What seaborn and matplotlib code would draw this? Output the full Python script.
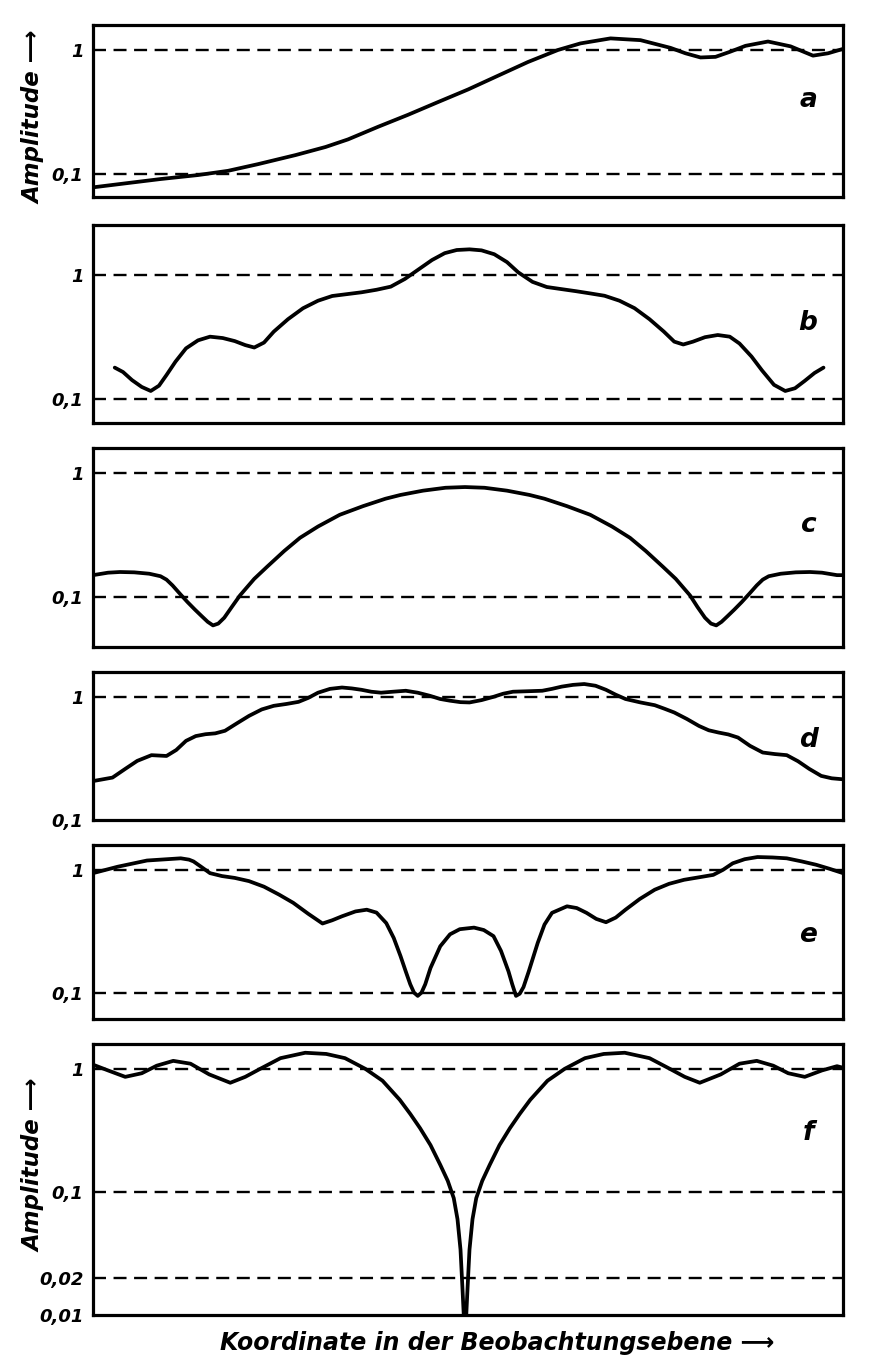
import matplotlib.pyplot as plt
import seaborn as sns
import numpy as np
import pandas as pd
from matplotlib.ticker import FixedLocator, FixedFormatter, NullLocator

x_a = [0, 5, 9, 14, 18, 22, 27, 31, 34, 38, 42, 46, 50, 54, 58, 62, 65, 69, 73, 77,
       79, 81, 83, 85, 87, 90, 93, 96, 98, 100]
amp_a = [0.078, 0.085, 0.091, 0.098, 0.106, 0.120, 0.142, 0.165, 0.19, 0.24, 0.30, 0.38,
         0.48, 0.62, 0.80, 1.00, 1.13, 1.24, 1.20, 1.04, 0.94, 0.87, 0.88, 0.97, 1.08,
         1.17, 1.07, 0.90, 0.94, 1.02]

x_b = [2.9, 4.0, 5.2, 6.5, 7.7, 8.8, 9.8, 11.0, 12.4, 14.0, 15.6, 17.3, 18.9, 20.3, 21.5,
       22.8, 24.1, 26.0, 28.0, 30.0, 31.9, 33.8, 35.8, 37.8, 39.7, 41.6, 43.6, 45.2, 46.9,
       48.5, 50.2, 51.8, 53.5, 55.2, 56.7, 58.6, 60.5, 62.4, 64.4, 66.3, 68.2, 70.2, 72.2,
       74.2, 76.1, 77.5, 78.7, 80.0, 81.6, 83.3, 84.9, 86.2, 87.8, 89.2, 90.8, 92.3, 93.6,
       94.9, 96.2, 97.4]
amp_b = [0.179, 0.165, 0.142, 0.125, 0.116, 0.128, 0.156, 0.20, 0.256, 0.297, 0.318, 0.31,
         0.293, 0.272, 0.26, 0.285, 0.349, 0.44, 0.539, 0.62, 0.677, 0.70, 0.725, 0.76,
         0.805, 0.93, 1.13, 1.32, 1.50, 1.59, 1.61, 1.58, 1.47, 1.27, 1.05, 0.88, 0.80,
         0.77, 0.74, 0.71, 0.68, 0.62, 0.54, 0.44, 0.35, 0.29, 0.275, 0.29, 0.315, 0.328,
         0.318, 0.28, 0.22, 0.17, 0.13, 0.116, 0.122, 0.14, 0.162, 0.179]

x_c = [0, 2, 3.6, 5.5, 7.5, 9, 9.8, 10.6, 11.6, 12.6, 13.6, 14.5, 15.3, 16.0, 16.7, 17.5,
       18.5, 19.6, 21.5, 23.2, 25.5, 27.6, 30, 32.9, 36, 39, 41, 44, 47, 49.6, 52.2, 55.2,
       58.2, 60.2, 63.2, 66.3, 69.2, 71.6, 73.7, 76, 77.7, 79.6, 80.6, 81.6, 82.4, 83.1,
       83.8, 84.6, 85.5, 86.5, 87.5, 88.5, 89.3, 90.1, 91.7, 93.7, 95.6, 97.2, 99.2, 100]
amp_c = [0.150, 0.157, 0.159, 0.158, 0.154, 0.147, 0.138, 0.124, 0.106, 0.091, 0.079,
         0.070, 0.063, 0.059, 0.061, 0.068, 0.083, 0.103, 0.14, 0.175, 0.235, 0.30, 0.37,
         0.46, 0.54, 0.62, 0.665, 0.72, 0.76, 0.77, 0.76, 0.72, 0.665, 0.62, 0.54, 0.46,
         0.37, 0.30, 0.235, 0.175, 0.14, 0.103, 0.083, 0.068, 0.061, 0.059, 0.063, 0.070,
         0.079, 0.091, 0.106, 0.124, 0.138, 0.147, 0.154, 0.158, 0.159, 0.157, 0.150, 0.150]

x_d = [0, 2.6, 4.3, 5.9, 7.8, 9.8, 11.1, 12.4, 13.7, 15.0, 16.3, 17.6, 19.2, 20.8, 22.5,
       24.1, 25.8, 27.4, 28.7, 30.0, 31.6, 33.2, 34.5, 35.8, 37.1, 38.4, 40.0, 41.7, 43.3,
       44.9, 46.3, 47.6, 49.0, 50.2, 51.8, 53.4, 54.7, 56.0, 58.0, 59.9, 61.2, 62.5, 64.0,
       65.5, 67.0, 68.4, 69.7, 71.0, 73.0, 74.9, 76.2, 77.5, 79.2, 80.8, 82.1, 83.4, 84.7,
       86.0, 87.6, 89.3, 90.9, 92.5, 94.0, 95.5, 97.1, 98.5, 100]
amp_d = [0.207, 0.221, 0.26, 0.302, 0.336, 0.331, 0.37, 0.439, 0.48, 0.497, 0.505, 0.53,
         0.61, 0.70, 0.79, 0.845, 0.875, 0.91, 0.98, 1.08, 1.16, 1.19, 1.17, 1.14, 1.10,
         1.08, 1.10, 1.12, 1.08, 1.02, 0.96, 0.93, 0.905, 0.90, 0.94, 1.00, 1.06, 1.10,
         1.11, 1.12, 1.16, 1.21, 1.25, 1.27, 1.23, 1.14, 1.04, 0.96, 0.90, 0.855, 0.80,
         0.746, 0.66, 0.58, 0.535, 0.513, 0.495, 0.467, 0.40, 0.353, 0.343, 0.336, 0.30,
         0.26, 0.228, 0.218, 0.214]

x_e = [0, 3.3, 7.2, 11.7, 12.8, 13.4, 14.5, 15.6, 17.2, 18.9, 20.8, 22.8, 24.8, 26.7, 28.7,
       30.6, 31.9, 33.2, 35, 36.5, 37.8, 39.1, 40.1, 41.0, 41.7, 42.3, 42.8, 43.3, 43.8,
       44.3, 45.0, 46.3, 47.6, 48.9, 50.8, 52.1, 53.4, 54.4, 55.4, 55.9, 56.4, 56.9, 57.4,
       58.1, 59.3, 60.2, 61.2, 63.2, 64.5, 65.8, 67.1, 68.4, 69.7, 71.0, 72.9, 74.9, 76.8,
       78.8, 80.8, 82.7, 84.0, 85.3, 86.9, 88.6, 90.6, 92.5, 94.5, 96.4, 98.2, 100]
amp_e = [0.94, 1.06, 1.19, 1.24, 1.21, 1.17, 1.05, 0.94, 0.89, 0.86, 0.81, 0.73, 0.63, 0.54,
         0.44, 0.367, 0.39, 0.42, 0.46, 0.475, 0.45, 0.37, 0.28, 0.20, 0.15, 0.118, 0.101,
         0.095, 0.101, 0.118, 0.16, 0.24, 0.30, 0.33, 0.34, 0.325, 0.29, 0.22, 0.15, 0.118,
         0.095, 0.099, 0.112, 0.15, 0.256, 0.36, 0.448, 0.506, 0.49, 0.448, 0.40, 0.376,
         0.41, 0.475, 0.58, 0.69, 0.77, 0.83, 0.87, 0.91, 1.00, 1.13, 1.22, 1.27, 1.26,
         1.24, 1.17, 1.10, 1.02, 0.94]

x_f = [0, 2, 4.3, 6.5, 8.5, 10.7, 13, 15.5, 18.3, 20.3, 22.3, 25, 28.3, 31.1, 33.6, 36.3,
       38.6, 40.9, 42.3, 43.6, 45.0, 46.3, 47.3, 48.1, 48.6, 49.0, 49.25, 49.45, 49.6,
       49.75, 49.95, 50.2, 50.6, 51.1, 51.9, 52.9, 54.2, 55.6, 56.9, 58.3, 60.6, 62.9,
       65.6, 68.1, 70.9, 74.2, 76.9, 78.9, 80.9, 83.7, 86.2, 88.5, 90.7, 92.7, 94.9, 97.2,
       99.2, 100]
amp_f = [1.08, 0.97, 0.86, 0.92, 1.06, 1.16, 1.10, 0.90, 0.77, 0.86, 1.00, 1.22, 1.35, 1.32,
         1.22, 1.00, 0.80, 0.56, 0.43, 0.33, 0.24, 0.166, 0.123, 0.089, 0.06, 0.034, 0.017,
         0.0095, 0.007, 0.0095, 0.017, 0.034, 0.06, 0.089, 0.123, 0.166, 0.24, 0.33, 0.43,
         0.56, 0.80, 1.00, 1.22, 1.32, 1.35, 1.22, 1.00, 0.86, 0.77, 0.90, 1.10, 1.16, 1.06,
         0.92, 0.86, 0.97, 1.05, 1.02]

panel_names = ["a", "b", "c", "d", "e", "f"]
tick_values = [[1, 0.1], [1, 0.1], [1, 0.1], [1, 0.1], [1, 0.1], [1, 0.1, 0.02, 0.01]]
tick_labels = [["1", "0,1"], ["1", "0,1"], ["1", "0,1"], ["1", "0,1"], ["1", "0,1"],
               ["1", "0,1", "0,02", "0,01"]]
ref_lines = [[1, 0.1], [1, 0.1], [1, 0.1], [1], [1, 0.1], [1, 0.1, 0.02]]
y_limits = [(0.0652, 1.59), (0.064, 2.53), (0.0395, 1.59), (0.1, 1.59), (0.0617, 1.59),
            (0.01, 1.59)]

curves = [(x_a, amp_a), (x_b, amp_b), (x_c, amp_c), (x_d, amp_d), (x_e, amp_e), (x_f, amp_f)]

sns.set_style("white")
plt.rcParams['font.family'] = ['DejaVu Sans']
plt.rcParams['text.color'] = 'black'
plt.rcParams['ytick.color'] = 'black'
plt.rcParams['ytick.labelcolor'] = 'black'

W, H = 871, 1369
fig = plt.figure(figsize=(W / 100, H / 100), dpi=100)

# panel frames in pixels (top, bottom); all share left/right edges
frames = [(25, 197), (225, 423), (448, 647), (672, 820), (845, 1019), (1044, 1315)]
left_px, right_px = 93, 843
letter_y = [100, 323, 525, 740, 935, 1133]

for i, (top, bot) in enumerate(frames):
    ax = fig.add_axes([left_px / W, 1 - bot / H, (right_px - left_px) / W, (bot - top) / H])
    xs, ys = curves[i]
    df = pd.DataFrame({"x": xs, "amp": ys})
    sns.lineplot(data=df, x="x", y="amp", ax=ax, color="black", lw=2.7,
                 sort=False, estimator=None)
    ax.set_yscale("log")
    ax.set_xlim(0, 100)
    ax.set_ylim(*y_limits[i])
    for v in ref_lines[i]:
        ax.axhline(v, color="black", lw=1.7, dashes=(5.5, 3.2))
    ax.yaxis.set_major_locator(FixedLocator(tick_values[i]))
    ax.yaxis.set_major_formatter(FixedFormatter(tick_labels[i]))
    ax.yaxis.set_minor_locator(NullLocator())
    ax.set_xticks([])
    ax.tick_params(axis="y", length=4, width=1.5, direction="out", pad=3, labelsize=13)
    for lab in ax.get_yticklabels():
        lab.set_fontstyle("italic")
        lab.set_fontweight("bold")
    ax.set_xlabel("")
    ax.set_ylabel("")
    for sp in ax.spines.values():
        sp.set_visible(True)
        sp.set_linewidth(2.3)
        sp.set_color("black")
    fig.text(808 / W, 1 - letter_y[i] / H, panel_names[i], fontsize=19, style="italic",
             weight="bold", ha="center", va="center")

fig.text(34 / W, 1 - 117 / H, "Amplitude \u27f6", rotation=90, fontsize=16.5,
         style="italic", weight="bold", ha="center", va="center")
fig.text(34 / W, 1 - 1165 / H, "Amplitude \u27f6", rotation=90, fontsize=16.5,
         style="italic", weight="bold", ha="center", va="center")
fig.text(497 / W, 1 - 1343 / H, "Koordinate in der Beobachtungsebene \u27f6", fontsize=17,
         style="italic", weight="bold", ha="center", va="center")

plt.savefig("out.png", dpi=100)
plt.close()
